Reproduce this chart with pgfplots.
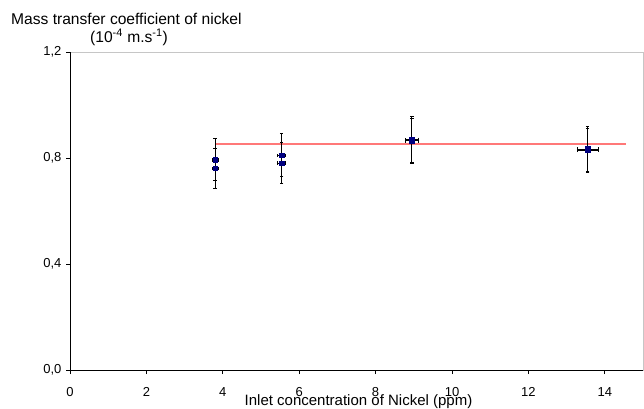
\documentclass[border=0pt]{standalone}
\usepackage{pgfplots}
\pgfplotsset{compat=1.18}
\usepackage{fontspec}
\setmainfont{Liberation Sans}
\definecolor{mk}{RGB}{0,0,128}
\definecolor{ln}{RGB}{255,120,120}
\begin{document}
\begin{tikzpicture}
\path[use as bounding box] (-70pt,-38pt) rectangle (574pt,370pt);
\begin{axis}[
  at={(0pt,0pt)}, anchor=south west,
  scale only axis, width=573pt, height=318pt,
  xmin=0, xmax=15, ymin=0, ymax=1.2,
  xtick={0,2,...,14}, ytick={0,0.4,0.8,1.2},
  xtick pos=left, ytick pos=left, tick align=outside,
  major tick length=4pt,
  tick style={black, line width=0.8pt},
  axis line style={draw=gray!45, line width=0.8pt},
  clip=false,
  ticklabel style={font=\fontsize{13}{15}\selectfont},
  xticklabel style={yshift=-10pt},
  yticklabel style={xshift=-1pt, /pgf/number format/.cd, fixed, fixed zerofill, precision=1, use comma, assume math mode=true},
  xticklabel style={/pgf/number format/assume math mode=true},
  error bars/error bar style={black, line width=0.9pt},
  error bars/error mark options={rotate=90, mark size=1.8pt, line width=0.9pt},
]
\draw[black, line width=0.9pt] (rel axis cs:0,1) -- (rel axis cs:0,0) -- (rel axis cs:1,0);
\addplot[ln, line width=1.4pt] coordinates {(3.8,0.853) (14.55,0.853)};
\addplot[only marks, mark=square*, mark size=2.3pt, mark options={fill=mk, draw=mk},
  error bars/.cd, x dir=both, x explicit, y dir=both, y explicit]
  table[x=x, y=y, x error=ex, y error=ey] {
x y ex ey
3.80 0.793 0.076 0.079
3.80 0.761 0.076 0.076
5.54 0.810 0.111 0.081
5.54 0.781 0.111 0.077
8.95 0.870 0.179 0.087
8.95 0.865 0.179 0.086
13.55 0.834 0.271 0.084
13.55 0.829 0.271 0.083
};
\end{axis}
\node[anchor=base west, inner sep=0pt, font=\fontsize{15.6}{18}\selectfont] at (-59pt,345pt) {Mass transfer coefficient of nickel};
\node[anchor=base, inner sep=0pt, font=\fontsize{15.6}{18}\selectfont] at (59pt,328pt) {(10\textsuperscript{-4} m.s\textsuperscript{-1})};
\node[anchor=base, inner sep=0pt, font=\fontsize{15}{18}\selectfont] at (288.5pt,-35pt) {Inlet concentration of Nickel (ppm)};
\end{tikzpicture}
\end{document}
